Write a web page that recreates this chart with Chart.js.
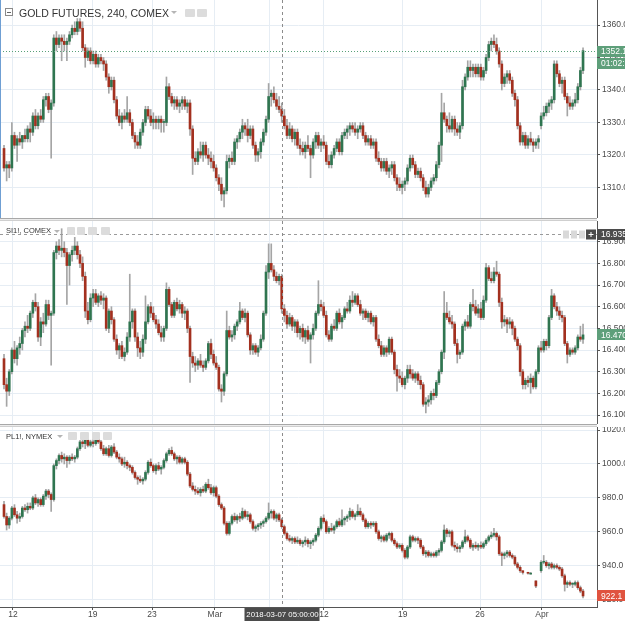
<!DOCTYPE html>
<html lang="en">
<head>
<meta charset="UTF-8" />
<title>Gold / Silver / Platinum futures, 240</title>
<script src="https://cdn.jsdelivr.net/npm/chart.js@4.4.0/dist/chart.umd.min.js"></script>
<style>
  body { margin: 0; background: #fff; font-family: Arial, "Liberation Sans", sans-serif; }
  #wrap { position: relative; width: 625px; height: 621px; overflow: hidden; }
  .pane { position: absolute; left: 0; }
  .sep { position: absolute; left: 0; width: 597px; height: 3px; box-sizing: border-box;
         border-top: 1px solid #a8a8a8; border-bottom: 1px solid #cfcfcf; background: #ececec; }
  .title { position: absolute; color: #333; white-space: nowrap; }
  .ico { position: absolute; background: #dcdcdc; border-radius: 1px; }
  .caret { position: absolute; width: 0; height: 0; border-left: 3px solid transparent;
           border-right: 3px solid transparent; border-top: 3px solid #b5b5b5; }
</style>
</head>
<body>
<div id="wrap">
  <canvas id="gold" class="pane" width="625" height="218" style="top:0"></canvas>
  <div class="sep" style="top:218px"></div>
  <canvas id="silver" class="pane" width="625" height="203" style="top:221px"></canvas>
  <div class="sep" style="top:424px"></div>
  <canvas id="plat" class="pane" width="625" height="194" style="top:427px"></canvas>

  <div style="position:absolute;left:0;top:0;width:1px;height:218px;background:#6f9fd3"></div>

  <!-- gold header -->
  <div style="position:absolute;left:5px;top:8px;width:8px;height:8px;border:1px solid #8a8a8a;box-sizing:border-box"></div>
  <div style="position:absolute;left:7px;top:11.5px;width:4px;height:1px;background:#666"></div>
  <div class="title" style="left:19px;top:6.5px;font-size:10.5px;line-height:12px">GOLD FUTURES, 240, COMEX</div>
  <div class="caret" style="left:171px;top:11px"></div>
  <div class="ico" style="left:185px;top:9px;width:10px;height:8px"></div>
  <div class="ico" style="left:197px;top:9px;width:10px;height:8px"></div>

  <!-- silver header -->
  <div class="title" style="left:6px;top:226px;font-size:7.5px;line-height:10px">SI1!, COMEX</div>
  <div class="caret" style="left:54px;top:230px"></div>
  <div class="ico" style="left:67px;top:227px;width:8px;height:8px"></div>
  <div class="ico" style="left:77px;top:227px;width:8px;height:8px"></div>
  <div class="ico" style="left:88px;top:227px;width:9px;height:8px"></div>
  <div class="ico" style="left:101px;top:227px;width:9px;height:8px"></div>

  <!-- platinum header -->
  <div class="title" style="left:6px;top:431.5px;font-size:7.5px;line-height:10px">PL1!, NYMEX</div>
  <div class="caret" style="left:57px;top:435px"></div>
  <div class="ico" style="left:68px;top:432px;width:9px;height:8px"></div>
  <div class="ico" style="left:80px;top:432px;width:9px;height:8px"></div>
  <div class="ico" style="left:92px;top:432px;width:8px;height:8px"></div>
  <div class="ico" style="left:103px;top:432px;width:9px;height:8px"></div>
</div>

<script>
  // 4h candles, one row per bar: [open, high, low, close]
  const goldRows = [
    [1322,1323,1315,1316],[1316,1318,1312,1317],[1317,1318,1313,1316],[1316,1330,1315,1326],[1326,1327,1322,1323],
    [1323,1326,1318,1325],[1325,1327,1323,1324],[1324,1326,1322,1326],[1326,1328,1324,1325],[1325,1329,1324,1328],
    [1328,1330,1324,1327],[1327,1333,1326,1332],[1332,1334,1328,1329],[1329,1333,1328,1332],[1332,1334,1330,1331],
    [1331,1338,1330,1337],[1337,1339,1335,1338],[1338,1339,1333,1334],[1334,1337,1319,1336],[1336,1357,1335,1356],
    [1356,1358,1352,1354],[1354,1357,1353,1356],[1356,1357,1349,1355],[1355,1357,1352,1354],[1354,1356,1349,1355],
    [1355,1358,1354,1357],[1357,1360,1356,1359],[1359,1361,1357,1358],[1358,1362,1357,1361],[1361,1362,1358,1359],
    [1359,1361,1352,1353],[1353,1354,1347,1350],[1350,1353,1349,1352],[1352,1353,1348,1349],[1349,1352,1348,1351],
    [1351,1352,1347,1348],[1348,1351,1347,1350],[1350,1351,1348,1349],[1349,1350,1346,1348],[1348,1349,1343,1344],
    [1344,1345,1339,1341],[1341,1344,1340,1343],[1343,1344,1336,1337],[1337,1338,1331,1332],[1332,1334,1329,1330],
    [1330,1333,1328,1332],[1332,1334,1330,1331],[1331,1338,1330,1333],[1333,1334,1329,1330],[1330,1331,1325,1326],
    [1326,1327,1322,1324],[1324,1326,1322,1323],[1323,1328,1322,1327],[1327,1331,1326,1330],[1330,1335,1329,1334],
    [1334,1335,1331,1332],[1332,1334,1329,1330],[1330,1333,1328,1331],[1331,1332,1328,1330],[1330,1332,1328,1331],
    [1331,1332,1327,1330],[1330,1331,1327,1330],[1330,1344,1329,1341],[1341,1342,1337,1338],[1338,1339,1335,1336],
    [1336,1338,1334,1337],[1337,1338,1334,1335],[1335,1337,1333,1336],[1336,1338,1334,1337],[1337,1338,1334,1335],
    [1335,1337,1333,1336],[1336,1337,1326,1328],[1328,1329,1314,1319],[1319,1321,1317,1318],[1318,1322,1317,1321],
    [1321,1324,1319,1320],[1320,1324,1318,1323],[1323,1324,1319,1320],[1320,1322,1317,1319],[1319,1321,1316,1318],
    [1318,1320,1315,1316],[1316,1317,1312,1313],[1313,1314,1309,1311],[1311,1313,1306,1308],[1308,1310,1304,1309],
    [1309,1320,1308,1318],[1318,1320,1316,1319],[1319,1321,1317,1318],[1318,1325,1317,1324],[1324,1326,1322,1325],
    [1325,1328,1324,1327],[1327,1331,1325,1329],[1329,1330,1326,1328],[1328,1331,1324,1326],[1326,1329,1325,1328],
    [1328,1329,1322,1323],[1323,1324,1318,1320],[1320,1322,1318,1321],[1321,1325,1319,1324],[1324,1328,1323,1327],
    [1327,1332,1326,1331],[1331,1342,1330,1338],[1338,1340,1335,1339],[1339,1341,1336,1337],[1337,1339,1334,1335],
    [1335,1338,1333,1334],[1334,1336,1330,1332],[1332,1334,1328,1329],[1329,1331,1325,1326],[1326,1330,1325,1328],
    [1328,1329,1324,1325],[1325,1328,1323,1327],[1327,1328,1322,1323],[1323,1325,1320,1322],[1322,1324,1320,1321],
    [1321,1324,1319,1323],[1323,1326,1321,1322],[1322,1323,1313,1320],[1320,1325,1319,1324],[1324,1327,1322,1326],
    [1326,1327,1322,1323],[1323,1325,1321,1324],[1324,1326,1322,1323],[1323,1324,1317,1318],[1318,1320,1316,1317],
    [1317,1321,1316,1320],[1320,1323,1319,1322],[1322,1325,1321,1324],[1324,1325,1320,1321],[1321,1327,1320,1326],
    [1326,1328,1325,1327],[1327,1329,1325,1328],[1328,1330,1326,1329],[1329,1330,1327,1328],[1328,1330,1326,1327],
    [1327,1329,1325,1328],[1328,1330,1327,1329],[1329,1330,1325,1326],[1326,1327,1323,1324],[1324,1326,1323,1325],
    [1325,1326,1322,1323],[1323,1325,1322,1324],[1324,1325,1318,1319],[1319,1321,1317,1318],[1318,1319,1315,1316],
    [1316,1319,1315,1318],[1318,1319,1314,1315],[1315,1317,1313,1316],[1316,1318,1314,1317],[1317,1318,1312,1313],
    [1313,1314,1309,1311],[1311,1313,1309,1310],[1310,1312,1308,1311],[1311,1313,1309,1312],[1312,1317,1311,1316],
    [1316,1320,1315,1319],[1319,1320,1316,1317],[1317,1318,1313,1314],[1314,1316,1313,1315],[1315,1316,1312,1313],
    [1313,1314,1309,1310],[1310,1312,1307,1308],[1308,1311,1307,1310],[1310,1313,1309,1312],[1312,1314,1311,1313],
    [1313,1318,1312,1317],[1317,1324,1316,1323],[1323,1339,1318,1333],[1333,1336,1330,1331],[1331,1332,1327,1329],
    [1329,1333,1327,1328],[1328,1332,1327,1331],[1331,1332,1326,1328],[1328,1330,1326,1327],[1327,1330,1325,1329],
    [1329,1343,1328,1341],[1341,1345,1340,1344],[1344,1349,1343,1347],[1347,1349,1344,1346],[1346,1348,1344,1347],
    [1347,1348,1344,1345],[1345,1348,1344,1347],[1347,1348,1343,1344],[1344,1347,1343,1346],[1346,1351,1345,1350],
    [1350,1355,1349,1354],[1354,1356,1352,1355],[1355,1357,1353,1354],[1354,1356,1351,1352],[1352,1353,1347,1348],
    [1348,1349,1340,1342],[1342,1345,1341,1344],[1344,1346,1342,1345],[1345,1346,1342,1343],[1343,1344,1338,1339],
    [1339,1340,1335,1337],[1337,1338,1328,1329],[1329,1330,1323,1324],[1324,1327,1323,1326],[1326,1327,1322,1323],
    [1323,1326,1322,1325],[1325,1327,1323,1324],[1324,1325,1321,1323],[1323,1325,1322,1324],[1324,1326,1322,1325],
    [1329,1333,1328,1332],[1332,1335,1331,1333],[1333,1336,1332,1335],[1335,1337,1333,1336],[1336,1338,1334,1337],
    [1337,1349,1336,1348],[1348,1349,1344,1345],[1345,1346,1341,1342],[1342,1344,1339,1343],[1343,1344,1337,1338],
    [1338,1339,1332,1336],[1336,1338,1334,1335],[1335,1337,1334,1336],[1336,1339,1335,1337],[1337,1342,1336,1341],
    [1341,1347,1340,1346],[1346,1353,1345,1352.1]
  ];

  const silverRows = [
    [16.36,16.38,16.22,16.24],[16.24,16.27,16.14,16.21],[16.21,16.31,16.19,16.30],[16.30,16.41,16.29,16.40],[16.40,16.44,16.34,16.36],
    [16.36,16.42,16.33,16.41],[16.41,16.46,16.38,16.43],[16.43,16.50,16.40,16.49],[16.49,16.53,16.46,16.51],[16.51,16.56,16.48,16.50],
    [16.50,16.58,16.49,16.57],[16.57,16.63,16.55,16.62],[16.62,16.66,16.58,16.60],[16.60,16.62,16.44,16.46],[16.46,16.55,16.42,16.53],
    [16.53,16.57,16.48,16.52],[16.52,16.63,16.51,16.61],[16.61,16.63,16.54,16.56],[16.56,16.58,16.33,16.57],[16.57,16.86,16.56,16.85],
    [16.85,16.90,16.82,16.88],[16.88,16.91,16.84,16.86],[16.86,16.96,16.83,16.87],[16.87,16.90,16.83,16.85],[16.85,16.87,16.61,16.79],
    [16.79,16.85,16.70,16.84],[16.84,16.88,16.81,16.86],[16.86,16.92,16.84,16.88],[16.88,16.90,16.82,16.84],[16.84,16.86,16.78,16.80],
    [16.80,16.83,16.72,16.74],[16.74,16.76,16.55,16.58],[16.58,16.62,16.52,16.54],[16.54,16.66,16.53,16.64],[16.64,16.68,16.60,16.66],
    [16.66,16.68,16.61,16.62],[16.62,16.66,16.60,16.65],[16.65,16.67,16.61,16.63],[16.63,16.66,16.59,16.64],[16.64,16.65,16.49,16.50],
    [16.50,16.59,16.48,16.58],[16.58,16.60,16.52,16.54],[16.54,16.55,16.44,16.45],[16.45,16.47,16.38,16.40],[16.40,16.43,16.36,16.42],
    [16.42,16.44,16.36,16.37],[16.37,16.41,16.35,16.39],[16.39,16.48,16.38,16.46],[16.46,16.75,16.44,16.53],[16.53,16.59,16.50,16.58],
    [16.58,16.59,16.44,16.46],[16.46,16.48,16.37,16.41],[16.41,16.44,16.36,16.39],[16.39,16.47,16.37,16.45],[16.45,16.65,16.43,16.53],
    [16.53,16.61,16.52,16.60],[16.60,16.62,16.55,16.57],[16.57,16.60,16.53,16.54],[16.54,16.56,16.50,16.52],[16.52,16.54,16.47,16.48],
    [16.48,16.51,16.44,16.46],[16.46,16.51,16.44,16.50],[16.50,16.71,16.49,16.68],[16.68,16.69,16.60,16.61],[16.61,16.62,16.55,16.56],
    [16.56,16.63,16.55,16.62],[16.62,16.64,16.58,16.59],[16.59,16.63,16.57,16.61],[16.61,16.62,16.55,16.57],[16.57,16.60,16.54,16.58],
    [16.58,16.59,16.48,16.50],[16.50,16.51,16.25,16.37],[16.37,16.39,16.32,16.34],[16.34,16.37,16.30,16.33],[16.33,16.36,16.31,16.35],
    [16.35,16.38,16.32,16.33],[16.33,16.35,16.30,16.32],[16.32,16.36,16.31,16.35],[16.35,16.44,16.34,16.43],[16.43,16.45,16.36,16.38],
    [16.38,16.40,16.33,16.34],[16.34,16.37,16.31,16.32],[16.32,16.33,16.21,16.22],[16.22,16.24,16.16,16.21],[16.21,16.30,16.19,16.29],
    [16.29,16.58,16.28,16.49],[16.49,16.51,16.45,16.46],[16.46,16.49,16.44,16.47],[16.47,16.52,16.45,16.51],[16.51,16.54,16.49,16.53],
    [16.53,16.62,16.52,16.58],[16.58,16.59,16.54,16.55],[16.55,16.59,16.53,16.57],[16.57,16.58,16.46,16.47],[16.47,16.48,16.38,16.40],
    [16.40,16.43,16.38,16.42],[16.42,16.43,16.38,16.39],[16.39,16.42,16.37,16.41],[16.41,16.47,16.40,16.45],[16.45,16.58,16.44,16.57],
    [16.57,16.79,16.56,16.76],[16.76,16.89,16.73,16.80],[16.80,16.89,16.76,16.77],[16.77,16.79,16.72,16.74],[16.74,16.76,16.71,16.72],
    [16.72,16.75,16.70,16.74],[16.74,16.75,16.57,16.59],[16.59,16.61,16.53,16.56],[16.56,16.58,16.50,16.52],[16.52,16.57,16.51,16.55],
    [16.55,16.56,16.49,16.51],[16.51,16.54,16.48,16.53],[16.53,16.54,16.46,16.48],[16.48,16.51,16.45,16.50],[16.50,16.52,16.44,16.46],
    [16.46,16.50,16.43,16.49],[16.49,16.51,16.44,16.45],[16.45,16.48,16.34,16.47],[16.47,16.52,16.45,16.50],[16.50,16.58,16.49,16.57],
    [16.57,16.72,16.56,16.61],[16.61,16.63,16.58,16.60],[16.60,16.62,16.55,16.56],[16.56,16.58,16.46,16.47],[16.47,16.49,16.44,16.45],
    [16.45,16.52,16.44,16.51],[16.51,16.54,16.49,16.50],[16.50,16.58,16.49,16.57],[16.57,16.59,16.52,16.53],[16.53,16.56,16.50,16.55],
    [16.55,16.60,16.54,16.59],[16.59,16.62,16.57,16.58],[16.58,16.65,16.57,16.63],[16.63,16.67,16.60,16.62],[16.62,16.66,16.61,16.65],
    [16.65,16.66,16.60,16.61],[16.61,16.63,16.56,16.57],[16.57,16.59,16.54,16.58],[16.58,16.59,16.54,16.55],[16.55,16.58,16.53,16.57],
    [16.57,16.58,16.52,16.53],[16.53,16.56,16.51,16.55],[16.55,16.56,16.44,16.45],[16.45,16.47,16.41,16.42],[16.42,16.44,16.37,16.38],
    [16.38,16.42,16.37,16.41],[16.41,16.42,16.37,16.39],[16.39,16.46,16.38,16.45],[16.45,16.46,16.38,16.39],[16.39,16.40,16.29,16.31],
    [16.31,16.33,16.21,16.28],[16.28,16.31,16.25,16.27],[16.27,16.30,16.23,16.24],[16.24,16.28,16.22,16.27],[16.27,16.33,16.25,16.31],
    [16.31,16.33,16.27,16.29],[16.29,16.31,16.26,16.27],[16.27,16.30,16.25,16.29],[16.29,16.30,16.24,16.26],[16.26,16.28,16.22,16.24],
    [16.24,16.25,16.14,16.15],[16.15,16.18,16.11,16.16],[16.16,16.19,16.14,16.17],[16.17,16.21,16.15,16.20],[16.20,16.22,16.17,16.19],
    [16.19,16.26,16.18,16.25],[16.25,16.31,16.24,16.30],[16.30,16.40,16.29,16.39],[16.39,16.67,16.36,16.57],[16.57,16.62,16.54,16.55],
    [16.55,16.58,16.52,16.53],[16.53,16.56,16.50,16.52],[16.52,16.53,16.42,16.43],[16.43,16.45,16.34,16.38],[16.38,16.40,16.36,16.39],
    [16.39,16.52,16.38,16.51],[16.51,16.54,16.49,16.53],[16.53,16.56,16.50,16.51],[16.51,16.62,16.50,16.61],[16.61,16.68,16.58,16.60],
    [16.60,16.63,16.56,16.57],[16.57,16.61,16.55,16.59],[16.59,16.62,16.54,16.55],[16.55,16.65,16.54,16.63],[16.63,16.80,16.62,16.78],
    [16.78,16.79,16.72,16.73],[16.73,16.76,16.71,16.72],[16.72,16.78,16.71,16.76],[16.76,16.81,16.74,16.75],[16.75,16.76,16.60,16.62],
    [16.62,16.64,16.50,16.53],[16.53,16.56,16.51,16.54],[16.54,16.55,16.48,16.52],[16.52,16.55,16.50,16.53],[16.53,16.54,16.47,16.50],
    [16.50,16.51,16.44,16.45],[16.45,16.46,16.40,16.42],[16.42,16.43,16.28,16.30],[16.30,16.31,16.22,16.24],[16.24,16.27,16.22,16.26],
    [16.26,16.28,16.23,16.25],[16.25,16.29,16.20,16.27],[16.27,16.28,16.22,16.23],[16.23,16.31,16.22,16.30],[16.30,16.42,16.29,16.41],
    [16.41,16.44,16.39,16.40],[16.40,16.45,16.39,16.44],[16.44,16.45,16.40,16.42],[16.42,16.56,16.41,16.55],[16.55,16.68,16.54,16.65],
    [16.65,16.66,16.59,16.60],[16.60,16.62,16.56,16.58],[16.58,16.60,16.54,16.56],[16.56,16.58,16.53,16.55],[16.55,16.56,16.42,16.43],
    [16.43,16.44,16.34,16.38],[16.38,16.41,16.37,16.40],[16.40,16.41,16.38,16.39],[16.39,16.42,16.38,16.41],[16.41,16.47,16.40,16.46],
    [16.46,16.51,16.44,16.45],[16.45,16.52,16.43,16.47]
  ];

  // platinum trades thinly: null = no bar in that slot
  const platRows = [
    [976,978,968,969],[969,971,961,964],[964,969,962,968],[968,975,967,974],[974,976,969,970],
    [970,972,965,968],[968,971,966,969],[969,975,968,974],[974,976,972,973],[973,977,971,975],
    [975,977,973,974],[974,981,973,980],[980,982,976,977],[977,980,975,979],[979,980,975,976],
    [976,982,975,981],[981,985,979,984],[984,985,980,982],[982,983,972,979],[979,1000,978,999],
    [999,1003,997,1002],[1002,1006,1000,1005],[1005,1007,1001,1003],[1003,1006,1000,1004],[1004,1005,998,1002],
    [1002,1005,1000,1004],[1004,1006,1002,1003],[1003,1005,1001,1004],[1004,1010,1003,1009],[1009,1014,1008,1013],
    [1013,1017,1010,1012],[1012,1015,1009,1014],[1014,1015,1010,1011],[1011,1014,1010,1013],[1013,1015,1010,1012],
    [1012,1017,1011,1016],[1016,1018,1012,1013],[1013,1014,1008,1009],[1009,1011,1005,1006],[1006,1010,1005,1009],
    [1009,1011,1004,1005],[1005,1011,1004,1010],[1010,1012,1006,1007],[1007,1008,1003,1004],[1004,1006,1001,1003],
    [1003,1004,999,1000],[1000,1004,998,1001],[1001,1002,997,999],[999,1000,996,998],[998,999,994,995],
    [995,996,991,992],[992,993,988,991],[991,993,989,990],[990,992,988,991],[991,996,990,995],
    [995,1002,994,1001],[1001,1003,998,999],[999,1000,995,996],[996,1000,994,999],[999,1001,996,997],
    [997,999,994,998],[998,1003,997,1002],[1002,1007,1001,1006],[1006,1009,1005,1008],[1008,1010,1005,1006],
    [1006,1007,1002,1003],[1003,1005,1000,1004],[1004,1005,1000,1001],[1001,1004,1000,1003],[1003,1004,1000,1001],
    [1001,1002,993,994],[994,995,986,987],[987,989,984,985],[985,987,982,984],[984,986,982,983],
    [983,986,981,985],[985,987,983,984],[984,989,983,988],[988,991,985,986],[986,988,982,983],
    [983,987,981,986],[986,987,980,981],[981,982,975,976],[976,977,973,974],[974,975,964,965],
    [965,966,958,959],[959,966,958,965],[965,970,964,969],[969,971,966,967],[967,970,965,969],
    [969,971,966,968],[968,974,967,972],[972,973,968,969],[969,972,967,970],[970,971,965,966],
    [966,967,961,962],[962,964,960,963],[963,965,961,964],[964,966,962,965],[965,967,963,966],
    [966,969,965,968],[968,977,967,971],[971,973,968,972],[972,973,967,968],[968,971,966,970],
    [970,971,966,967],[967,968,962,963],[963,964,958,959],[959,960,955,956],[956,958,954,955],
    [955,957,953,956],[956,957,953,954],[954,957,953,955],[955,956,952,953],[953,955,951,954],
    [954,957,952,955],[955,956,951,953],[953,955,950,954],[954,956,952,955],[955,959,954,958],
    [958,963,957,962],[962,969,961,968],[968,970,965,966],[966,967,959,960],[960,963,959,962],
    [962,965,960,961],[961,964,959,963],[963,967,962,966],[966,968,963,964],[964,973,963,967],
    [967,969,964,968],[968,970,966,969],[969,974,967,972],[972,973,968,969],[969,971,967,970],
    [970,976,969,972],[972,974,969,970],[970,971,966,967],[967,968,962,963],[963,966,962,965],
    [965,966,962,964],[964,966,963,965],[965,966,959,960],[960,961,955,956],[956,958,954,957],
    [957,958,954,955],[955,959,954,958],[958,960,956,959],[959,960,954,955],[955,956,952,953],
    [953,954,950,951],[951,953,950,952],[952,953,948,949],[949,950,944,945],[945,952,944,951],
    [951,958,950,957],[957,958,954,955],[955,957,954,956],[956,957,953,955],[955,956,950,951],
    [951,952,946,947],[947,949,945,948],[948,949,945,946],[946,948,945,947],[947,948,945,946],
    [946,949,945,948],[948,950,946,949],[949,955,948,954],[954,964,953,961],[961,962,957,959],
    [959,961,957,960],[960,961,951,952],[952,954,949,951],[951,953,948,950],[950,952,948,951],
    [951,955,950,954],[954,961,953,957],[957,958,954,955],[955,956,950,951],[951,953,949,952],
    [952,954,950,951],[951,953,949,952],[952,954,950,951],[951,954,950,953],[953,956,952,955],
    [955,958,954,957],[957,960,956,958],[958,962,957,959],[959,960,955,957],[957,958,946,947],
    [947,948,940,946],[946,948,944,947],[947,949,945,948],[948,949,945,946],[946,947,944,945],
    [945,946,940,941],[941,942,938,939],[939,940,936,937],[937,937,935,936],null,
    [936,936,935,935.5],[935,936,935,935],null,[931,931,927,928],null,
    [937,943,936,942],[942,946,941,942],[942,943,939,940],[940,942,938,941],[941,942,938,939],
    [939,941,938,940],[940,941,938,939],[939,940,937,938],[938,939,933,934],[934,935,925,929],
    [929,931,927,930],[930,931,928,929],[929,930,927,929],[929,931,928,930],[930,931,926,927],
    [927,928,924,925],[925,926,921,922.1]
  ];

  // date axis (bar index positions) and price ticks
  const xTickPos = [3.4, 33.9, 56.5, 80.5, 101.5, 122.1, 152.2, 181.7, 205.3];
  const xTickLabels = ['12', '19', '23', 'Mar', '', '12', '19', '26', 'Apr'];
  const goldTicks = [1310, 1320, 1330, 1340, 1350, 1360];
  const silverTicks = [16.1, 16.2, 16.3, 16.4, 16.5, 16.6, 16.7, 16.8, 16.9];
  const platTicks = [920, 940, 960, 980, 1000, 1020];

  // crosshair: bar of 2018-03-07 05:00, price 16.935 in the silver pane
  const crossIndex = 106;
  const crossLabel = '2018-03-07 05:00:00';
  const silverCrossPrice = 16.935;
  const goldCountdown = '01:02:15';

  const UP = '#2f7550';
  const DOWN = '#a3301f';
  const WICK = '#a5a5a5';
  const GRID = '#e6edf4';
  const AXIS = '#555';
  const X_MIN = -1.53, X_MAX = 226.33;

  const line = (g, x1, y1, x2, y2) => { g.beginPath(); g.moveTo(x1, y1); g.lineTo(x2, y2); g.stroke(); };

  function tag(g, yc, text, fill) {
    g.fillStyle = fill;
    g.fillRect(597, Math.round(yc - 5.5), 28, 11);
    g.fillStyle = '#fff';
    g.font = '8.5px Arial';
    g.textAlign = 'left';
    g.textBaseline = 'middle';
    g.fillText(text, 601, yc + 0.5);
  }

  function crossV(chart, bottom) {
    const g = chart.ctx;
    const px = Math.round(chart.scales.x.getPixelForValue(crossIndex)) + 0.5;
    g.save();
    g.strokeStyle = '#8c8c8c';
    g.lineWidth = 1;
    g.setLineDash([3, 3]);
    line(g, px, 0, px, bottom);
    g.restore();
    return px;
  }

  function candlePanel(id, rows, yMin, yMax, yTicks, digits, showDates, marks) {
    const bodies = [], wicks = [];
    rows.forEach((r, i) => {
      if (!r) return;
      bodies.push({ x: i, y: [r[0], r[3]], up: r[3] >= r[0] });
      wicks.push({ x: i, y: [r[2], r[1]] });
    });
    return new Chart(document.getElementById(id), {
      type: 'bar',
      data: {
        datasets: [
          { data: bodies, backgroundColor: (c) => (c.raw && c.raw.up ? UP : DOWN), barThickness: 2, minBarLength: 1, grouped: false },
          { data: wicks, backgroundColor: WICK, barThickness: 1, grouped: false },
        ],
      },
      options: {
        responsive: false,
        animation: false,
        devicePixelRatio: 1,
        events: [],
        layout: { padding: 0 },
        plugins: { legend: { display: false }, tooltip: { enabled: false } },
        scales: {
          x: {
            type: 'linear',
            min: X_MIN,
            max: X_MAX,
            offset: false,
            afterBuildTicks: (s) => { s.ticks = xTickPos.map((v) => ({ value: v })); },
            afterFit: (s) => { s.height = showDates ? 14 : 0; s.paddingLeft = 0; s.paddingRight = 0; },
            grid: { color: GRID, offset: false, drawTicks: showDates, tickLength: 3, tickColor: AXIS },
            border: { display: showDates, color: AXIS },
            ticks: {
              display: showDates, padding: 0, color: '#4a4a4a', font: { size: 8.5 },
              maxRotation: 0, autoSkip: false, callback: (v, i) => xTickLabels[i],
            },
          },
          y: {
            position: 'right',
            min: yMin,
            max: yMax,
            afterBuildTicks: (s) => { s.ticks = yTicks.map((v) => ({ value: v })); },
            afterFit: (s) => { s.width = 28; s.paddingTop = 0; s.paddingBottom = 0; },
            grid: { color: GRID, tickLength: 3, tickColor: AXIS },
            border: { color: AXIS },
            ticks: {
              padding: 2, color: '#4a4a4a', font: { size: 8.5 }, autoSkip: false,
              callback: (v) => Number(v).toFixed(digits),
            },
          },
        },
      },
      plugins: [{ id: 'marks', afterDraw: marks }],
    });
  }

  candlePanel('gold', goldRows, 1300.6, 1367.7, goldTicks, 1, false, (chart) => {
    const g = chart.ctx, a = chart.chartArea;
    const last = goldRows[goldRows.length - 1][3];
    const py = Math.round(chart.scales.y.getPixelForValue(last)) + 0.5;
    g.save();
    g.strokeStyle = '#58a078';
    g.lineWidth = 1;
    g.setLineDash([1, 2]);
    line(g, a.left, py, a.right, py);
    g.restore();
    crossV(chart, chart.height);
    tag(g, py, last.toFixed(1), '#5e9f7a');
    tag(g, py + 11.5, goldCountdown, '#5e9f7a');
  });

  candlePanel('silver', silverRows, 16.0585, 16.9956, silverTicks, 3, false, (chart) => {
    const g = chart.ctx, a = chart.chartArea;
    const cy = Math.round(chart.scales.y.getPixelForValue(silverCrossPrice)) + 0.5;
    g.save();
    g.strokeStyle = '#9a9a9a';
    g.lineWidth = 1;
    g.setLineDash([3, 3]);
    line(g, a.left, cy, a.right, cy);
    g.restore();
    crossV(chart, chart.height);
    g.fillStyle = '#d9d9d9';
    g.fillRect(563, cy - 4, 6, 8);
    g.fillRect(571, cy - 4, 6, 8);
    g.fillRect(579, cy - 4, 6, 8);
    g.fillStyle = '#4b4b4b';
    g.fillRect(586, cy - 5, 10, 10);
    g.fillStyle = '#fff';
    g.fillRect(588.5, cy - 0.5, 5, 1);
    g.fillRect(590.5, cy - 2.5, 1, 5);
    tag(g, cy, silverCrossPrice.toFixed(3), '#4b4b4b');
    const last = silverRows[silverRows.length - 1][3];
    tag(g, chart.scales.y.getPixelForValue(last), last.toFixed(3), '#5e9f7a');
  });

  candlePanel('plat', platRows, 915.6, 1021.8, platTicks, 1, true, (chart) => {
    const g = chart.ctx, a = chart.chartArea;
    const px = crossV(chart, a.bottom);
    const last = platRows[platRows.length - 1][3];
    tag(g, chart.scales.y.getPixelForValue(last), last.toFixed(1), '#e0533f');
    g.fillStyle = '#4b4b4b';
    g.fillRect(px - 38, a.bottom + 1, 75, chart.height - a.bottom - 1);
    g.fillStyle = '#fff';
    g.font = '7.8px Arial';
    g.textAlign = 'center';
    g.textBaseline = 'middle';
    g.fillText(crossLabel, px, a.bottom + 7.5);
  });
</script>
</body>
</html>
